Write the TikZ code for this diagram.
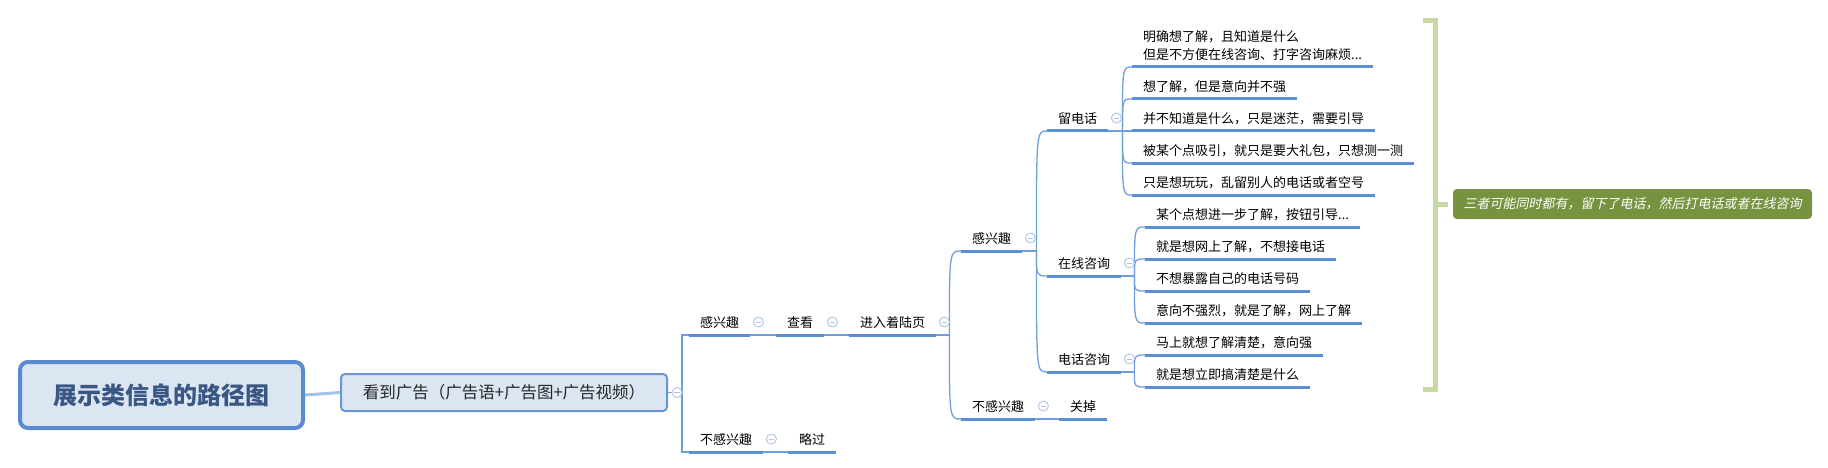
\documentclass[tikz,border=0pt]{standalone}
\usepackage{fontspec}
\newfontfamily\cjk{Noto Sans CJK SC}
\newfontfamily\cjkit[FakeSlant=0.2]{Noto Sans CJK SC}
\usetikzlibrary{calc}
\definecolor{ulblue}{HTML}{5A8ED6}
\definecolor{lnkblue}{HTML}{6F9FDD}
\definecolor{foldc}{HTML}{AFC2E4}
\definecolor{rootfill}{HTML}{DCE5F2}
\definecolor{rootborder}{HTML}{5A8BD0}
\definecolor{roottext}{HTML}{3A5784}
\definecolor{adborder}{HTML}{6A96D4}
\definecolor{rootlink}{HTML}{A6C2EA}
\definecolor{brkgreen}{HTML}{C6D9A0}
\definecolor{notegreen}{HTML}{789340}
\tikzset{
  topicbase/.style={font=\cjk\fontsize{13}{18}\selectfont, text=black, inner xsep=11pt, inner ysep=4.5pt, anchor=south west},
  topic/.style={topicbase, text height=10pt, text depth=3pt},
  ul/.style={draw=ulblue, line width=3pt},
  lnk/.style={draw=lnkblue, line width=1.3pt},
  fold/.style={circle, draw=foldc, fill=white, minimum size=10pt, inner sep=0pt, line width=0.9pt,
    path picture={\draw[foldc, line width=0.9pt] ($(path picture bounding box.center)+(-2.6,0)$) -- ($(path picture bounding box.center)+(2.6,0)$);}},
  rootbox/.style={rounded corners=8pt, draw=rootborder, line width=4pt, fill=rootfill, minimum width=283pt, minimum height=66pt, font=\cjk\bfseries\fontsize{24}{28}\selectfont, text=roottext},
  adbox/.style={rounded corners=4pt, draw=adborder, line width=2pt, fill=rootfill, minimum width=326pt, minimum height=37pt, font=\cjk\fontsize{16.5}{20}\selectfont, text=black!85},
  notebox/.style={rounded corners=4pt, fill=notegreen, minimum width=359pt, minimum height=30pt, inner sep=0pt, font=\cjkit\fontsize{13}{16}\selectfont, text=white},
  brk/.style={draw=brkgreen, line width=5pt}
}
\begin{document}
\begin{tikzpicture}[x=1pt,y=-1pt]
\useasboundingbox (0,0) rectangle (1828,468);
% main nodes
\node[rootbox] (root) at (161.5,395) {展示类信息的路径图};
\node[adbox] (ad) at (504,392.5) {看到广告（广告语+广告图+广告视频）};
% topics
\node[topic] (i2) at (689,335) {感兴趣};
\node[topic] (n2) at (689,452) {不感兴趣};
\node[topic] (see) at (776,335) {查看};
\node[topic] (skip) at (788,452) {略过};
\node[topic] (land) at (849,335) {进入着陆页};
\node[topic] (i4) at (961,251) {感兴趣};
\node[topic] (n4) at (961,419) {不感兴趣};
\node[topic] (close) at (1059,419) {关掉};
\node[topic] (phone) at (1047,131) {留电话};
\node[topic] (online) at (1047,276) {在线咨询};
\node[topic] (call) at (1047,372) {电话咨询};
\node[topicbase, text depth=3pt] (p1) at (1132,67) {\vbox{\hbox{明确想了解，且知道是什么}\hbox{但是不方便在线咨询、打字咨询麻烦...}}};
\node[topic] (p2) at (1132,99) {想了解，但是意向并不强};
\node[topic] (p3) at (1132,131) {并不知道是什么，只是迷茫，需要引导};
\node[topic] (p4) at (1132,163) {被某个点吸引，就只是要大礼包，只想测一测};
\node[topic] (p5) at (1132,195) {只是想玩玩，乱留别人的电话或者空号};
\node[topic] (o1) at (1145,227) {某个点想进一步了解，按钮引导...};
\node[topic] (o2) at (1145,259) {就是想网上了解，不想接电话};
\node[topic] (o3) at (1145,291) {不想暴露自己的电话号码};
\node[topic] (o4) at (1145,323) {意向不强烈，就是了解，网上了解};
\node[topic] (c1) at (1145,355) {马上就想了解清楚，意向强};
\node[topic] (c2) at (1145,387) {就是想立即搞清楚是什么};
% underlines
\foreach \n in {i2,n2,see,skip,land,i4,n4,close,phone,online,call,p1,p2,p3,p4,p5,o1,o2,o3,o4,c1,c2}
  \draw[ul] (\n.south west) -- (\n.south east);
% root link
\draw[draw=rootlink, line width=3pt] (root.east) -- (ad.west);
% first level elbow
\draw[lnk] (ad.east) -- ++(14,0) coordinate (bad);
\draw[lnk] (bad) |- (i2.south west);
\draw[lnk] (bad) |- (n2.south west);
% straight links
\draw[lnk] (i2.south east) -- (see.south west);
\draw[lnk] (see.south east) -- (land.south west);
\draw[lnk] (n2.south east) -- (skip.south west);
\draw[lnk] (n4.south east) -- (close.south west);
% curved branches
\draw[lnk] (land.south east) -- ++(13,0) coordinate (bland);
\foreach \c in {i4,n4} \draw[lnk] (bland) .. controls (bland |- \c.south west) .. (\c.south west);
\draw[lnk] (i4.south east) -- ++(14,0) coordinate (bi4);
\foreach \c in {phone,online,call} \draw[lnk] (bi4) .. controls (bi4 |- \c.south west) .. (\c.south west);
\draw[lnk] (phone.south east) -- ++(14,0) coordinate (bphone);
\foreach \c in {p1,p2,p3,p4,p5} \draw[lnk] (bphone) .. controls (bphone |- \c.south west) .. (\c.south west);
\draw[lnk] (online.south east) -- ++(13,0) coordinate (bonline);
\foreach \c in {o1,o2,o3,o4} \draw[lnk] (bonline) .. controls (bonline |- \c.south west) .. (\c.south west);
\draw[lnk] (call.south east) -- ++(13,0) coordinate (bcall);
\foreach \c in {c1,c2} \draw[lnk] (bcall) .. controls (bcall |- \c.south west) .. (\c.south west);
% fold markers
\node[fold] (fad) at ($(ad.east)+(9,0)$) {};
\foreach \n in {i2,see,land,n2,i4,n4,phone,online,call}
  \node[fold] (f\n) at ($(\n.south east)+(8,-13)$) {};
% summary bracket and note
\node[notebox] (note) at (1632.5,204) {三者可能同时都有，留下了电话，然后打电话或者在线咨询};
\coordinate (brT) at (1423,20.5);
\coordinate (brB) at (1423,389.5);
\coordinate (brM) at (1435.5,204.5);
\draw[brk] (brT) -- (1435.5,20.5) -- (1435.5,389.5) -- (brB);
\draw[brk] (brM) -- ($(note.west)+(-5,0.5)$);
\end{tikzpicture}
\end{document}
